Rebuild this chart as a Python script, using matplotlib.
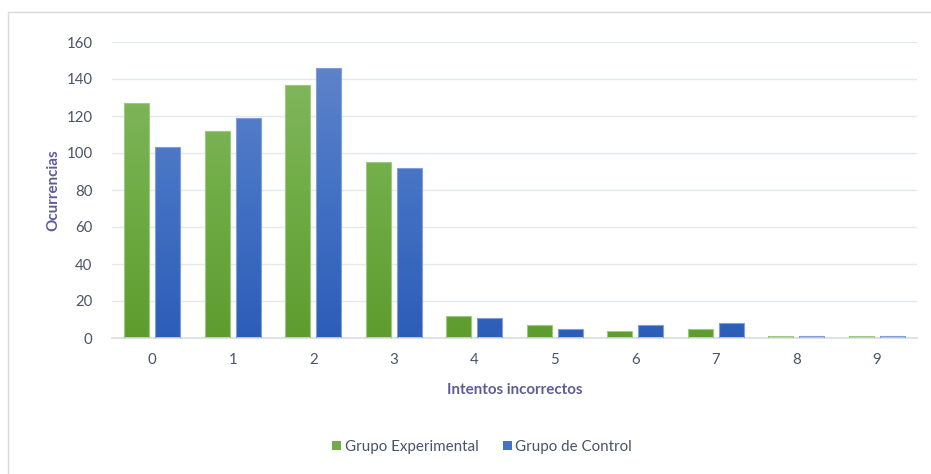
import numpy as np
import matplotlib
matplotlib.use("Agg")
import matplotlib.pyplot as plt
from matplotlib.colors import LinearSegmentedColormap
from matplotlib.patches import Rectangle, Patch

categories = ["0", "1", "2", "3", "4", "5", "6", "7", "8", "9"]
experimental = [127, 112, 137, 95, 12, 7, 4, 5, 1, 1]
control = [103, 119, 146, 92, 11, 5, 7, 8, 1, 1]
series_names = ["Grupo Experimental", "Grupo de Control"]
yticks = [0, 20, 40, 60, 80, 100, 120, 140, 160]

plt.rcParams['font.family'] = ['Lato', 'DejaVu Sans']

W, H = 931, 474
fig = plt.figure(figsize=(W / 100, H / 100), dpi=100)
fig.patch.set_facecolor("white")
# outer chart border
fig.add_artist(Rectangle((8 / W, -0.1), 1.2, 1 - 12 / H + 0.1, transform=fig.transFigure,
                         fill=False, edgecolor="#D9D9D9", linewidth=1.0))

ax = fig.add_axes([112 / W, 1 - 338 / H, (917 - 112) / W, (338 - 42) / H])
ax.set_xlim(-0.5, len(categories) - 0.5)
ax.set_ylim(0, 160)

x = np.arange(len(categories))
bw = 0.31
off = 0.19

green_cmap = LinearSegmentedColormap.from_list("g", ["#5E9C2E", "#70AD47", "#86B865"])
blue_cmap = LinearSegmentedColormap.from_list("b", ["#2C5DB8", "#4472C4", "#6486CC"])
grad = np.linspace(0, 1, 256).reshape(-1, 1)

def draw(vals, xs, cmap, edge):
    bars = ax.bar(xs, vals, width=bw, color="none", edgecolor=edge, linewidth=0.8, zorder=3)
    for b in bars:
        x0, y0 = b.get_x(), b.get_y()
        w, h = b.get_width(), b.get_height()
        im = ax.imshow(grad, cmap=cmap, origin="lower", aspect="auto",
                       extent=(x0, x0 + w, 0, 160), zorder=2.5)
        clip = Rectangle((x0, y0), w, h, transform=ax.transData)
        im.set_clip_path(clip)
    return bars

draw(experimental, x - off, green_cmap, "#9CCB7E")
draw(control, x + off, blue_cmap, "#7F9FDB")
ax.set_xlim(-0.5, len(categories) - 0.5)
ax.set_ylim(0, 160)

ax.set_yticks(yticks)
ax.set_xticks(x)
ax.set_xticklabels(categories)
ax.yaxis.grid(True, color="#E4E7EC", linewidth=1.0, zorder=0)
ax.set_axisbelow(True)
for s in ["top", "right", "left"]:
    ax.spines[s].set_visible(False)
ax.spines["bottom"].set_color("#D9DDE3")
ax.spines["bottom"].set_linewidth(1.2)
ax.tick_params(axis="both", length=0, colors="#4A5468", labelsize=10.8)
ax.tick_params(axis="y", pad=14)
ax.tick_params(axis="x", pad=11)

ax.set_ylabel("Ocurrencias", fontsize=10.9, fontweight="bold", color="#5E5C98", labelpad=4)
ax.set_xlabel("Intentos incorrectos", fontsize=10.9, fontweight="bold", color="#5E5C98", labelpad=11)

handles = [Patch(facecolor="#70AD47", edgecolor="none"), Patch(facecolor="#4472C4", edgecolor="none")]
leg = fig.legend(handles, series_names, loc="center", bbox_to_anchor=(482 / W, 1 - 447 / H),
                 ncol=2, frameon=False, fontsize=10.9, handlelength=0.6, handleheight=0.6,
                 handletextpad=0.25, columnspacing=1.6)
for t in leg.get_texts():
    t.set_color("#4A5468")

fig.savefig("out.png", dpi=100, facecolor="white")
